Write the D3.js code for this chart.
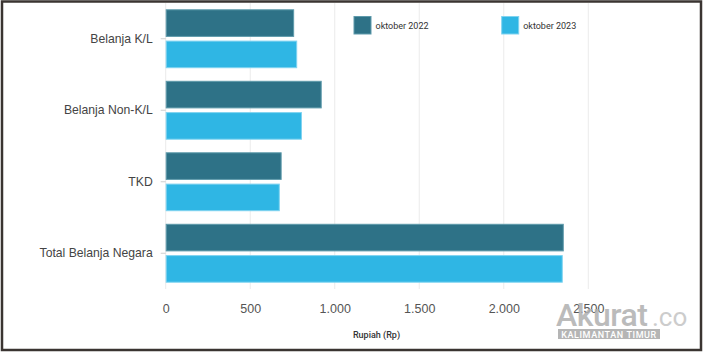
<!DOCTYPE html>
<html>
<head>
<meta charset="utf-8">
<script src="https://cdn.jsdelivr.net/npm/d3@7"></script>
<style>
  body { margin: 0; background: #fff; }
  svg { display: block; font-family: Roboto, "Noto Sans", sans-serif; }
</style>
</head>
<body>
<svg width="704" height="353"></svg>
<script>
const categories = ["Belanja K/L", "Belanja Non-K/L", "TKD", "Total Belanja Negara"];
const seriesNames = ["oktober 2022", "oktober 2023"];
const values2022 = [754, 917, 680, 2349];
const values2023 = [772, 800, 669, 2343];
const xTicks = [0, 500, 1000, 1500, 2000, 2500];
const colors = ["#2e7287", "#2fb6e4"];
const strokes = ["#5e9aab", "#7fd3f0"];

const svg = d3.select("svg");
const width = +svg.attr("width");
const height = +svg.attr("height");

const margin = { top: 3, right: 116, bottom: 64, left: 166 };
const innerWidth = width - margin.left - margin.right;
const innerHeight = height - margin.top - margin.bottom;

const data = categories.map((c, i) => ({ cat: c, vals: [values2022[i], values2023[i]] }));

const xScale = d3.scaleLinear()
    .domain([0, 2500])
    .range([0, 588.3 - 165.7]);

const yScale = d3.scaleBand()
    .domain(categories)
    .range([0, innerHeight])
    .paddingInner(0.19)
    .paddingOuter(0.095);

const subScale = d3.scaleBand()
    .domain([0, 1])
    .range([0, yScale.bandwidth()])
    .paddingInner(0.15);

const g = svg.append('g')
    .attr('transform', `translate(${margin.left - 0.3}, ${margin.top})`);

// grid
g.append('g')
    .selectAll('line').data(xTicks)
    .enter().append('line')
    .attr('x1', d => xScale(d)).attr('x2', d => xScale(d))
    .attr('y1', 0).attr('y2', innerHeight)
    .attr('stroke', '#ebebeb')
    .attr('stroke-width', 1);

// bars
const groups = g.selectAll('.grp').data(data)
    .enter().append('g')
    .attr('class', 'grp')
    .attr('transform', d => `translate(0, ${yScale(d.cat)})`);

groups.selectAll('rect')
    .data(d => d.vals.map((v, k) => ({ v, k })))
    .enter().append('rect')
    .attr('x', 0.5)
    .attr('y', d => subScale(d.k))
    .attr('width', d => xScale(d.v))
    .attr('height', subScale.bandwidth())
    .attr('fill', d => colors[d.k])
    .attr('stroke', d => strokes[d.k])
    .attr('stroke-width', 1);

// y axis
const yAxisG = g.append('g')
    .call(d3.axisLeft(yScale).tickSize(5).tickPadding(8));
yAxisG.select('.domain').remove();
yAxisG.selectAll('.tick line').attr('stroke', '#cfcfcf');
yAxisG.selectAll('.tick text')
    .attr('fill', '#444')
    .attr('font-size', 12.2);

// x axis
const xAxisG = g.append('g')
    .attr('transform', `translate(0, ${innerHeight})`)
    .call(d3.axisBottom(xScale)
        .tickValues(xTicks)
        .tickSize(0)
        .tickPadding(15)
        .tickFormat(d => d3.format(",")(d).replace(/,/g, ".")));
xAxisG.select('.domain').remove();
xAxisG.selectAll('.tick text')
    .attr('fill', '#555')
    .attr('font-size', 12.5);

svg.append('text')
    .attr('x', 376.5)
    .attr('y', 337.5)
    .attr('text-anchor', 'middle')
    .attr('font-size', 9)
    .attr('font-weight', 500)
    .attr('fill', '#333')
    .text('Rupiah (Rp)');

// legend
const legend = svg.append('g');
const legendX = [354, 501.7];
seriesNames.forEach((name, i) => {
    legend.append('rect')
        .attr('x', legendX[i]).attr('y', 16.5)
        .attr('width', 17).attr('height', 17.5)
        .attr('fill', colors[i])
        .attr('stroke', strokes[i]);
    legend.append('text')
        .attr('x', legendX[i] + 21.5).attr('y', 28.5)
        .attr('font-size', 9)
        .attr('fill', '#333')
        .text(name);
});

// watermark
const wm = svg.append('g').attr('opacity', 0.85);
wm.append('text')
    .attr('x', 556).attr('y', 326)
    .attr('font-size', 32)
    .attr('font-weight', 500)
    .attr('fill', '#b0b0b0')
    .attr('letter-spacing', -0.5)
    .text('Akurat');
wm.append('text')
    .attr('x', 652).attr('y', 326)
    .attr('font-size', 26)
    .attr('fill', '#c4c4c4')
    .text('.co');
wm.append('rect')
    .attr('x', 558).attr('y', 329)
    .attr('width', 102).attr('height', 10)
    .attr('fill', '#a9a9a9');
wm.append('text')
    .attr('x', 609).attr('y', 337.5)
    .attr('text-anchor', 'middle')
    .attr('font-size', 9)
    .attr('font-weight', 500)
    .attr('letter-spacing', 0.6)
    .attr('fill', '#fff')
    .text('KALIMANTAN TIMUR');

// frame
svg.append('rect')
    .attr('x', 2).attr('y', 1.5)
    .attr('width', 699).attr('height', 348.5)
    .attr('fill', 'none')
    .attr('stroke', '#3a3431')
    .attr('stroke-width', 2.5);
</script>
</body>
</html>
